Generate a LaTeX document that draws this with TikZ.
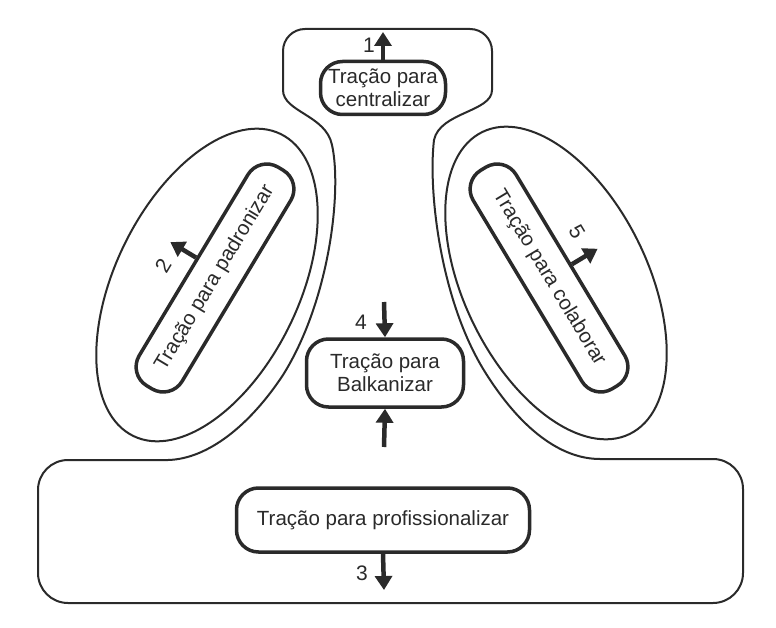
\documentclass[tikz,border=0pt]{standalone}
\usepackage{fontspec}
\setmainfont{Liberation Sans}
\usetikzlibrary{arrows.meta,calc}
\definecolor{ink}{HTML}{2A2A2A}
\begin{document}
\begin{tikzpicture}[x=1pt,y=-1pt,
  contour/.style={draw=ink,line width=2pt},
  boxstyle/.style={draw=ink,line width=3.5pt,rounded corners=22pt,align=center,
    font=\fontsize{20.5}{23}\selectfont,text=ink,inner sep=0pt},
  pull/.style={draw=ink,line width=4.5pt,-{Triangle[width=17pt,length=14pt]}},
  num/.style={font=\fontsize{21}{21}\selectfont,text=ink,inner sep=0pt}]
\useasboundingbox (0,0) rectangle (776,628);
\fill[white] (0,0) rectangle (776,628);
% outer contour
\draw[contour] (283,90) [rounded corners=22pt] -- (283,29) -- (492,29) [sharp corners] -- (492,90)
  .. controls (492,112) and (440,112) .. (434,140)
  .. controls (428,190) and (440,300) .. (485,372)
  .. controls (520,428) and (560,459) .. (600,459)
  [rounded corners=30pt] -- (743,459) -- (743,603) -- (38,603) -- (38,460) [sharp corners] -- (168,460)
  .. controls (208,459) and (250,425) .. (283,375)
  .. controls (330,300) and (342,190) .. (332,145)
  .. controls (326,115) and (283,112) .. (283,90) -- cycle;
% ellipses
\draw[contour,rotate around={64:(207,285)}] (207,285) ellipse [x radius=168pt, y radius=92pt];
\draw[contour,rotate around={-64:(556,283)}] (556,283) ellipse [x radius=168pt, y radius=92pt];
% boxes
\node[boxstyle, minimum width=125pt, minimum height=53pt] (cen) at (383,88) {Tração para\\centralizar};
\node[boxstyle, minimum width=157pt, minimum height=68pt] (balk) at (385,373) {Tração para\\Balkanizar};
\node[boxstyle, minimum width=293pt, minimum height=64pt] (prof) at (383,520) {Tração para profissionalizar};
\node[boxstyle, rotate=59, minimum width=255pt, minimum height=50pt] (pad) at (215,278) {Tração para padronizar};
\node[boxstyle, rotate=-59, minimum width=255pt, minimum height=50pt] (col) at (549,278) {Tração para colaborar};
% pulls
\coordinate (a1) at (383,32);
\draw[pull] (cen.north) -- (a1);
\node[num] (n1) at (369,45) {1};
\coordinate (a4) at (384,302);
\draw[pull] (a4) -- (balk.north);
\node[num] (n4) at (361,322) {4};
\coordinate (a6) at (384,447);
\draw[pull] (a6) -- (balk.south);
\coordinate (a3) at (384,590);
\draw[pull] (prof.south) -- (a3);
\node[num] (n3) at (362,573) {3};
\coordinate (p2) at ($(pad.north)!0.06!(pad.north east)$);
\coordinate (d2) at ($(p2)+(pad.north)-(pad.center)$);
\coordinate (a2) at ($(p2)!30pt!(d2)$);
\draw[pull] (p2) -- (a2);
\node[num, rotate=59] (n2) at (163,266) {2};
\coordinate (a5) at ($(col.north)!-30pt!(col.center)$);
\draw[pull] (col.north) -- (a5);
\node[num, rotate=-59] (n5) at (577,232) {5};
\end{tikzpicture}
\end{document}
